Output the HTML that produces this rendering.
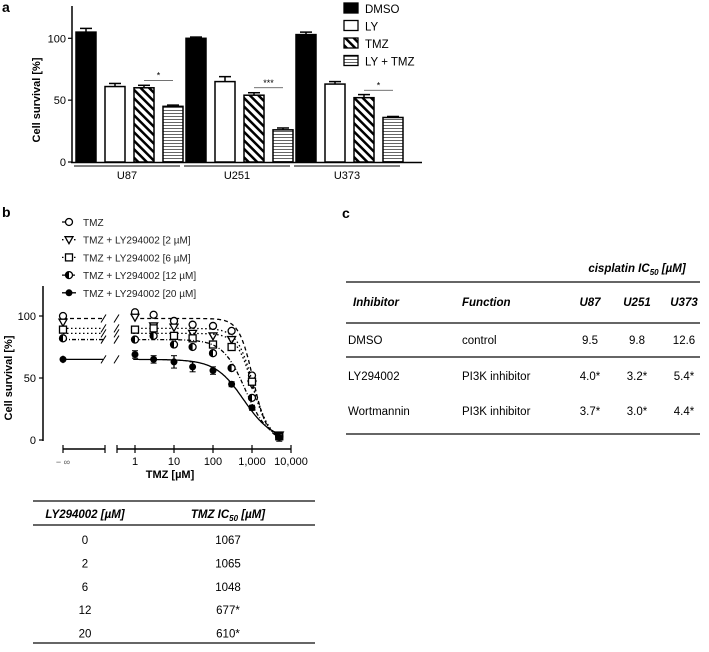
<!DOCTYPE html>
<html><head><meta charset="utf-8"><style>
body{margin:0;background:#fff;width:709px;height:647px;overflow:hidden;font-family:"Liberation Sans",Arial,sans-serif}
svg text{font-family:"Liberation Sans",Arial,sans-serif}
</style></head><body>
<svg id="fig" width="709" height="647" viewBox="0 0 709 647">
<defs>
<pattern id="diag" patternUnits="userSpaceOnUse" width="6" height="6" patternTransform="rotate(-45)">
<rect width="6" height="6" fill="#fff"/><rect width="2.5" height="6" fill="#000"/></pattern>
<pattern id="horiz" patternUnits="userSpaceOnUse" width="4" height="3">
<rect width="4" height="3" fill="#fff"/><rect y="2" width="4" height="1" fill="#666"/></pattern>
</defs>
<g id="pa"></g>
<g id="pb"></g>
<g id="tb"></g>
<g id="tc"></g>
</svg>
<script>
const groups=["U87","U251","U373"];
const seriesNames=["DMSO","LY","TMZ","LY + TMZ"];
const dmsoVals=[105,100,103];
const lyVals=[61,65,63];
const tmzVals=[60,54,52];
const lytmzVals=[45,26,36];
const dmsoErr=[3,1,2];
const lyErr=[2.5,4,2];
const tmzErr=[2,2,2.5];
const lytmzErr=[1,1.5,0.8];
const sigLabels=["*","***","*"];
const sigLevels=[66,60,58];
const aTicks=[0,50,100];

const bDoses=[1,3,10,30,100,300,1000,5000];
const bSeriesNames=["TMZ","TMZ + LY294002 [2 µM]","TMZ + LY294002 [6 µM]","TMZ + LY294002 [12 µM]","TMZ + LY294002 [20 µM]"];
const bCtrl=[100,95,89,82,65];
const bTMZ=[103,101,96,93,92,88,52,3];
const bLY2=[99,92,91,86,84,81,45,4];
const bLY6=[89,90,84,82,77,75,47,3];
const bLY12=[81,84,77,75,70,58,34,3];
const bLY20=[69,65,63,59,56,45,26,2];
const bTop=[98,90,86,81,65];
const bIC50=[1067,1065,1048,677,610];
const bHill=[2.4,2.1,2.1,1.5,1.2];
const bTicks=[0,50,100];
const bXTicks=[1,10,100,1000,10000];
const bXLabels=["1","10","100","1,000","10,000"];

const tbLY=["0","2","6","12","20"];
const tbIC=["1067","1065","1048","677*","610*"];
const tcInhib=["DMSO","LY294002","Wortmannin"];
const tcFunc=["control","PI3K inhibitor","PI3K inhibitor"];
const tcU87=["9.5","4.0*","3.7*"];
const tcU251=["9.8","3.2*","3.0*"];
const tcU373=["12.6","5.4*","4.4*"];

const NS="http://www.w3.org/2000/svg";
function mk(parent,tag,attrs,txt){const e=document.createElementNS(NS,tag);for(const k in attrs)e.setAttribute(k,attrs[k]);if(txt!==undefined)e.textContent=txt;parent.appendChild(e);return e;}

// ---------- Panel A ----------
const pa=document.getElementById('pa');
const ay=v=>162-v*1.237;
const gx=(g,s)=>76+g*110+s*29;
const bw=20;
let t=mk(pa,'text',{x:2,y:12,'font-size':14,'font-weight':'bold'},'a');

let ax=mk(pa,'line',{x1:72,y1:6,x2:72,y2:163,stroke:'#000','stroke-width':1.5});

ax=mk(pa,'line',{x1:71,y1:162.5,x2:422,y2:162.5,stroke:'#000','stroke-width':1.5});

aTicks.forEach(v=>{mk(pa,'line',{x1:68,y1:ay(v),x2:72,y2:ay(v),stroke:'#000','stroke-width':1.2});
 const tl=mk(pa,'text',{x:66,y:ay(v)+4,'font-size':11,'text-anchor':'end'},String(v));
 });
t=mk(pa,'text',{x:0,y:0,'font-size':11,'font-weight':'bold','text-anchor':'middle',transform:'translate(40,100) rotate(-90)'},'Cell survival [%]');

const vals=[dmsoVals,lyVals,tmzVals,lytmzVals],errs=[dmsoErr,lyErr,tmzErr,lytmzErr];
const fills=['#000','#fff','url(#diag)','url(#horiz)'];
groups.forEach((g,gi)=>{
 vals.forEach((arr,si)=>{const x=gx(gi,si),v=arr[gi],e=errs[si][gi];
  mk(pa,'line',{x1:x+bw/2,y1:ay(v),x2:x+bw/2,y2:ay(v+e),stroke:'#000','stroke-width':1.5});
  mk(pa,'line',{x1:x+4,y1:ay(v+e),x2:x+bw-4,y2:ay(v+e),stroke:'#000','stroke-width':1.5});
  const r=mk(pa,'rect',{x:x,y:ay(v),width:bw,height:162-ay(v),fill:fills[si],stroke:'#000','stroke-width':1.5});
  });
 const x1=gx(gi,2)+bw/2,x2=gx(gi,3)+bw/2,yy=ay(sigLevels[gi]);
 mk(pa,'line',{x1:x1,y1:yy,x2:x2,y2:yy,stroke:'#444','stroke-width':0.8});
 let s=mk(pa,'text',{x:(x1+x2)/2,y:yy-2,'font-size':9,'text-anchor':'middle'},sigLabels[gi]);
 
 mk(pa,'line',{x1:74+gi*110,y1:166,x2:180+gi*110,y2:166,stroke:'#000','stroke-width':1});
 s=mk(pa,'text',{x:127+gi*110,y:179,'font-size':11,'text-anchor':'middle'},g);
 
});
seriesNames.forEach((n,i)=>{const y=3+i*17.5;
 const r=mk(pa,'rect',{x:344,y:y,width:14,height:10,fill:fills[i],stroke:'#000','stroke-width':1.3});
 
 const l=mk(pa,'text',{x:365,y:y+10,'font-size':11.5},n);
 });

// ---------- Panel B ----------
const pb=document.getElementById('pb');
const by=v=>440-v*1.24;
const bx=v=>135+39*Math.log10(v);
const xInf=63;
t=mk(pb,'text',{x:2,y:217,'font-size':14,'font-weight':'bold'},'b');

ax=mk(pb,'line',{x1:43,y1:286,x2:43,y2:441,stroke:'#000','stroke-width':1.5});

bTicks.forEach(v=>{mk(pb,'line',{x1:39,y1:by(v),x2:43,y2:by(v),stroke:'#000','stroke-width':1.2});
 const tl=mk(pb,'text',{x:36,y:by(v)+4,'font-size':11,'text-anchor':'end'},String(v));
 });
t=mk(pb,'text',{x:0,y:0,'font-size':11,'font-weight':'bold','text-anchor':'middle',transform:'translate(12,378) rotate(-90)'},'Cell survival [%]');

mk(pb,'line',{x1:63,y1:449,x2:105,y2:449,stroke:'#000','stroke-width':1.5});
mk(pb,'line',{x1:63,y1:445,x2:63,y2:453,stroke:'#000','stroke-width':1.2});
mk(pb,'line',{x1:105,y1:445,x2:105,y2:453,stroke:'#000','stroke-width':1.2});
ax=mk(pb,'line',{x1:117,y1:449,x2:bx(10000),y2:449,stroke:'#000','stroke-width':1.5});

mk(pb,'line',{x1:117,y1:445,x2:117,y2:453,stroke:'#000','stroke-width':1.2});
t=mk(pb,'text',{x:63,y:465,'font-size':9,'text-anchor':'middle',fill:'#555'},'− ∞');

bXTicks.forEach((v,i)=>{mk(pb,'line',{x1:bx(v),y1:445,x2:bx(v),y2:453,stroke:'#000','stroke-width':1.2});
 const tl=mk(pb,'text',{x:bx(v),y:465,'font-size':11,'text-anchor':'middle'},bXLabels[i]);
 });
t=mk(pb,'text',{x:170,y:478,'font-size':11,'font-weight':'bold','text-anchor':'middle'},'TMZ [µM]');

const bData=[bTMZ,bLY2,bLY6,bLY12,bLY20];
const dashes=['4,3','1.5,2.5','1.5,2.5','4,2,1,2','none'];
const errB=[[0,0,0,0,0,0,0,0],[0,0,0,0,0,0,0,0],[0,0,0,0,0,0,0,0],[0,0,0,0,0,0,0,0],[3,3,5,4,3,2,2,3]];
function marker(g,k,x,y){let m;
 if(k==0)m=mk(g,'circle',{cx:x,cy:y,r:3.5,fill:'#fff',stroke:'#000','stroke-width':1.3});
 else if(k==1)m=mk(g,'path',{d:`M${x-4},${y-3}L${x+4},${y-3}L${x},${y+4}Z`,fill:'#fff',stroke:'#000','stroke-width':1.3});
 else if(k==2)m=mk(g,'rect',{x:x-3.5,y:y-3.5,width:7,height:7,fill:'#fff',stroke:'#000','stroke-width':1.3});
 else if(k==3){m=mk(g,'circle',{cx:x,cy:y,r:3.5,fill:'#fff',stroke:'#000','stroke-width':1.3});mk(g,'path',{d:`M${x},${y-3.5}A3.5,3.5 0 0 0 ${x},${y+3.5}Z`,fill:'#000'});}
 else m=mk(g,'circle',{cx:x,cy:y,r:3.5,fill:'#000'});
 return m;}
bData.forEach((arr,k)=>{
 const g=mk(pb,'g',{});
 const f=v=>bTop[k]/(1+Math.pow(v/bIC50[k],bHill[k]));
 let d='';for(let lv=Math.log10(0.9);lv<=Math.log10(5000);lv+=0.02){const v=Math.pow(10,lv);d+=(d?'L':'M')+bx(v).toFixed(1)+','+by(f(v)).toFixed(1);}
 const c=mk(g,'path',{d:d,fill:'none',stroke:'#000','stroke-width':1.3,'stroke-dasharray':dashes[k]});
 
 mk(g,'line',{x1:xInf,y1:by(bTop[k]),x2:103,y2:by(bTop[k]),stroke:'#000','stroke-width':1.3,'stroke-dasharray':dashes[k]});
 const yy=by(bTop[k]);
 mk(g,'line',{x1:101,y1:yy+4,x2:106,y2:yy-4,stroke:'#000','stroke-width':1});
 mk(g,'line',{x1:114,y1:yy+4,x2:119,y2:yy-4,stroke:'#000','stroke-width':1});
 marker(g,k,xInf,by(bCtrl[k]));
 arr.forEach((v,i)=>{const x=bx(bDoses[i]),y=by(v),e=errB[k][i];
  if(e){mk(g,'line',{x1:x,y1:by(v-e),x2:x,y2:by(v+e),stroke:'#000','stroke-width':1.3});
   mk(g,'line',{x1:x-3,y1:by(v-e),x2:x+3,y2:by(v-e),stroke:'#000'});mk(g,'line',{x1:x-3,y1:by(v+e),x2:x+3,y2:by(v+e),stroke:'#000'});}
  const m=marker(g,k,x,y);});
 if(k==4){mk(g,'line',{x1:xInf,y1:by(62),x2:xInf,y2:by(68),stroke:'#000','stroke-width':1.3});}
 const ly=222+k*17.7;
 mk(g,'line',{x1:62,y1:ly,x2:76,y2:ly,stroke:'#000','stroke-width':1.3,'stroke-dasharray':dashes[k]});
 marker(g,k,69,ly);
 const l=mk(g,'text',{x:83,y:ly+4,'font-size':10,fill:'#222'},bSeriesNames[k]);
 
});

// ---------- Table B ----------
const tb=document.getElementById('tb');
mk(tb,'line',{x1:33,y1:501,x2:315,y2:501,stroke:'#333','stroke-width':1.5});
mk(tb,'line',{x1:33,y1:525,x2:315,y2:525,stroke:'#333','stroke-width':1.5});
mk(tb,'line',{x1:33,y1:643,x2:315,y2:643,stroke:'#333','stroke-width':1.5});
t=mk(tb,'text',{x:85,y:518,'font-size':11.5,'font-weight':'bold','font-style':'italic','text-anchor':'middle'},'LY294002 [µM]');

t=mk(tb,'text',{x:228,y:518,'font-size':11.5,'font-weight':'bold','font-style':'italic','text-anchor':'middle'});

t.innerHTML='TMZ IC<tspan font-size="8" dy="3">50</tspan><tspan dy="-3"> [µM]</tspan>';
tbLY.forEach((v,i)=>{const y=544+i*23.4;
 let c=mk(tb,'text',{x:85,y:y,'font-size':11.5,'text-anchor':'middle'},v);
 c=mk(tb,'text',{x:228,y:y,'font-size':11.5,'text-anchor':'middle'},tbIC[i]);});

// ---------- Table C ----------
const tc=document.getElementById('tc');
t=mk(tc,'text',{x:342,y:218,'font-size':14,'font-weight':'bold'},'c');

t=mk(tc,'text',{x:637,y:272,'font-size':11.5,'font-weight':'bold','font-style':'italic','text-anchor':'middle'});

t.innerHTML='cisplatin IC<tspan font-size="8" dy="3">50</tspan><tspan dy="-3"> [µM]</tspan>';
[282,323,357,434].forEach(y=>mk(tc,'line',{x1:346,y1:y,x2:700,y2:y,stroke:'#333','stroke-width':1.5}));
const hdr=[["Inhibitor",353,'start'],["Function",462,'start'],["U87",590,'middle'],["U251",637,'middle'],["U373",684,'middle']];
hdr.forEach(h=>{const c=mk(tc,'text',{x:h[1],y:306,'font-size':11.5,'font-weight':'bold','font-style':'italic','text-anchor':h[2]},h[0]);
 });
const rowY=[344,380,415];
tcInhib.forEach((n,i)=>{const y=rowY[i];
 [[n,348,'start'],[tcFunc[i],462,'start'],[tcU87[i],590,'middle'],[tcU251[i],637,'middle'],[tcU373[i],684,'middle']].forEach(c=>{
  const e=mk(tc,'text',{x:c[1],y:y,'font-size':11.5,'text-anchor':c[2]},c[0]);
  });});
</script>
</body></html>
